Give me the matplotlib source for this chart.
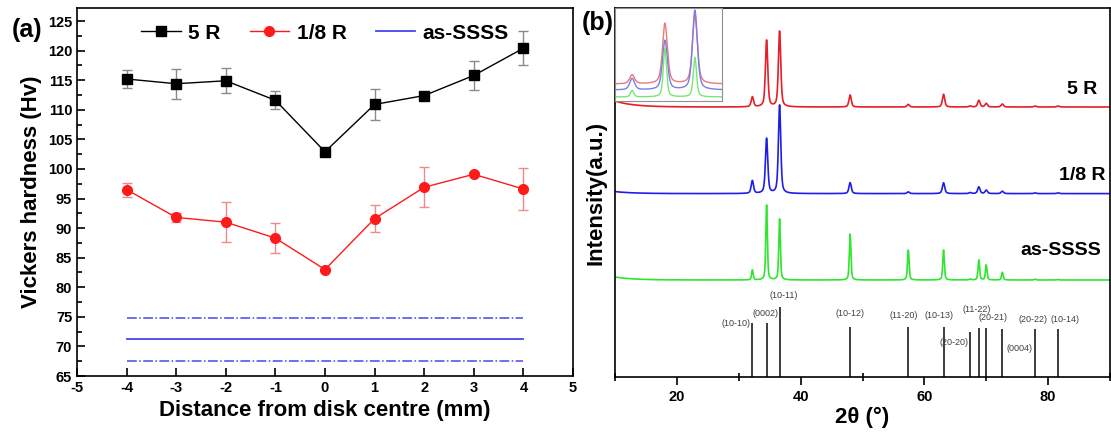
import numpy as np
import matplotlib
matplotlib.use("Agg")
import matplotlib.pyplot as plt
from matplotlib.ticker import MultipleLocator

plt.rcParams['font.family'] = ['Liberation Sans', 'DejaVu Sans']
plt.rcParams['font.weight'] = 'bold'
plt.rcParams['axes.labelweight'] = 'bold'
plt.rcParams['axes.unicode_minus'] = False
plt.rcParams['axes.linewidth'] = 1.2

# ---- (a) hardness profile ----
dist = [-4, -3, -2, -1, 0, 1, 2, 3, 4]
hv_5R = [115.2, 114.4, 114.9, 111.6, 102.9, 110.9, 112.4, 115.8, 120.4]
err_5R = [1.6, 2.5, 2.1, 1.5, 0.4, 2.6, 0.3, 2.4, 2.9]
hv_8R = [96.5, 91.8, 91.0, 88.3, 83.0, 91.6, 96.9, 99.1, 96.6]
err_8R = [1.2, 0.7, 3.4, 2.5, 0.3, 2.3, 3.4, 0.3, 3.6]
hv_ss = 71.2
hv_ss_hi = 74.8
hv_ss_lo = 67.5

# ---- (b) XRD ----
pk_2theta = [32.2, 34.5, 36.6, 48.0, 57.4, 63.1, 67.4, 68.8, 70.0, 72.6, 77.9, 81.6]
pk_5R = [10, 66.6, 75.7, 12, 2.6, 12.7, 1.0, 6.7, 3.6, 3.0, 1.0, 1.0]
pk_8R = [12.8, 55, 88.5, 11, 1.7, 10.8, 1.0, 6.7, 3.4, 2.4, 0.7, 0.7]
pk_ss = [10, 75, 61, 46, 30, 30, 1.0, 20, 15, 7.7, 1.0, 0.5]
fwhm = [0.45, 0.45, 0.3]
base = [270, 183.4, 97]        # vertical offsets of the stacked patterns
lowangle = [6, 2, 3]           # background rise at low angle
names = ['5 R', '1/8 R', 'as-SSSS']
colors = ['#e61e25', '#1e1ee6', '#2ee62e']
light = ['#ea7a7a', '#7c7ce6', '#74e874']
name_y = [287, 201, 127]

# reference pattern (sticks)
ref_2theta = [32.2, 34.5, 36.6, 48.0, 57.4, 63.1, 67.4, 68.8, 70.0, 72.6, 77.9, 81.6]
ref_height = [54, 54, 70, 50, 50, 50, 45, 49, 49, 48, 48, 48]
ref_hkl = ['(10-10)', '(0002)', '(10-11)', '(10-12)', '(11-20)', '(10-13)',
           '(20-20)', '(11-22)', '(20-21)', '(0004)', '(20-22)', '(10-14)']
hkl_x = [31.9, 34.4, 37.2, 48.0, 56.7, 62.4, 67.2, 68.5, 71.1, 75.3, 77.5, 82.7]
hkl_y = [53, 64, 82, 63, 61, 61, 35, 68, 60, 29, 58, 58]
hkl_ha = ['right', 'center', 'center', 'center', 'center', 'center',
          'right', 'center', 'center', 'center', 'center', 'center']

# inset
inset_base = [17, 11, 4]
inset_scale = [0.91, 0.9, 0.65]


def profile(x, heights, w):
    y = np.zeros_like(x)
    for x0, h in zip(pk_2theta, heights):
        u = (x - x0) / (w / 2)
        y += h * (0.5 / (1 + u**2) + 0.5 * np.exp(-np.log(2) * u**2))
    return y


fig = plt.figure(figsize=(11.11, 4.36), dpi=100)

ax1 = fig.add_axes([77/1111, 60/436, 496/1111, 368/436])
ax1.errorbar(dist, hv_5R, yerr=err_5R, fmt='none', ecolor='#8a8a8a',
             elinewidth=1, capsize=3.5, capthick=1)
ax1.errorbar(dist, hv_8R, yerr=err_8R, fmt='none', ecolor='#f08a8a',
             elinewidth=1, capsize=3.5, capthick=1)
ax1.plot(dist, hv_5R, '-s', color='black', ms=6.5, lw=1, label='5 R')
ax1.plot(dist, hv_8R, '-o', color='#ff1a1a', mec='#ff1a1a', ms=7, lw=1,
         label='1/8 R')
ax1.plot([dist[0], dist[-1]], [hv_ss, hv_ss], '-', color='#4646f0', lw=1.3,
         label='as-SSSS')
ax1.plot([dist[0], dist[-1]], [hv_ss_hi, hv_ss_hi], '-.', color='#4646f0', lw=1.1)
ax1.plot([dist[0], dist[-1]], [hv_ss_lo, hv_ss_lo], '-.', color='#4646f0', lw=1.1)

ax1.set_xlim(-5, 5)
ax1.set_ylim(65, 127.2)
ax1.xaxis.set_major_locator(MultipleLocator(1))
ax1.yaxis.set_major_locator(MultipleLocator(5))
ax1.yaxis.set_minor_locator(MultipleLocator(2.5))
ax1.set_yticks(np.arange(65, 126, 5))
ax1.tick_params(direction='in', which='major', length=6, width=1.2, labelsize=10.5)
ax1.tick_params(direction='in', which='minor', length=3.5, width=1.2)
for lab in ax1.get_xticklabels() + ax1.get_yticklabels():
    lab.set_fontweight('bold')
ax1.set_xlabel('Distance from disk centre (mm)', fontsize=16, labelpad=4)
ax1.set_ylabel('Vickers hardness (Hv)', fontsize=16, labelpad=4)
ax1.legend(loc='upper center', ncol=3, frameon=False, fontsize=15,
           bbox_to_anchor=(0.5, 1.0), handlelength=1.9, handletextpad=0.35,
           columnspacing=1.4, borderaxespad=0.35)
fig.text(27/1111, 1 - 30/436, '(a)', fontsize=18, ha='center', va='center')

# ---- (b) ----
ax2 = fig.add_axes([615/1111, 59/436, 495/1111, 369/436])
tt = np.linspace(10, 90, 4000)
for i, pk in enumerate([pk_5R, pk_8R, pk_ss]):
    y = base[i] + lowangle[i] * np.exp(-(tt - 10) / 3) + profile(tt, pk, fwhm[i])
    ax2.plot(tt, y, color=colors[i], lw=1.2)
    ax2.text(88.5 if i == 2 else 85.5, name_y[i], names[i], fontsize=14,
             ha='right' if i == 2 else 'center', va='center')

ax2.vlines(ref_2theta, 0, ref_height, color='#3c3c3c', lw=1.4)
for x, y, s, ha in zip(hkl_x, hkl_y, ref_hkl, hkl_ha):
    ax2.text(x, y, s, fontsize=6.5, fontweight='normal', color='#404040',
             ha=ha, va='center')

ax2.set_xlim(10, 90)
ax2.set_ylim(0, 369)
ax2.set_yticks([])
ax2.xaxis.set_major_locator(MultipleLocator(20))
ax2.xaxis.set_minor_locator(MultipleLocator(10))
ax2.tick_params(axis='x', which='major', direction='out', length=6, width=1.2,
                labelsize=10.5)
ax2.tick_params(axis='x', which='minor', direction='inout', length=6, width=1.2)
for lab in ax2.get_xticklabels():
    lab.set_fontweight('bold')
ax2.set_xlabel('2θ (°)', fontsize=16, labelpad=2)
ax2.set_ylabel('Intensity(a.u.)', fontsize=16, labelpad=6)
fig.text(598/1111, 1 - 23/436, '(b)', fontsize=18, ha='center', va='center')

axin = fig.add_axes([615/1111, 1 - 101/436, 107/1111, 93/436])
ti = np.linspace(31, 38.5, 800)
for i, pk in enumerate([pk_5R, pk_8R, pk_ss]):
    yi = inset_base[i] + inset_scale[i] * profile(ti, pk, fwhm[i] * 0.9)
    axin.plot(ti, yi, color=light[i], lw=1)
axin.set_xlim(31, 38.5)
axin.set_ylim(0, 93)
axin.set_xticks([])
axin.set_yticks([])
for sp in axin.spines.values():
    sp.set_color('#909090')
    sp.set_linewidth(0.8)

fig.savefig('out.png', dpi=100)
